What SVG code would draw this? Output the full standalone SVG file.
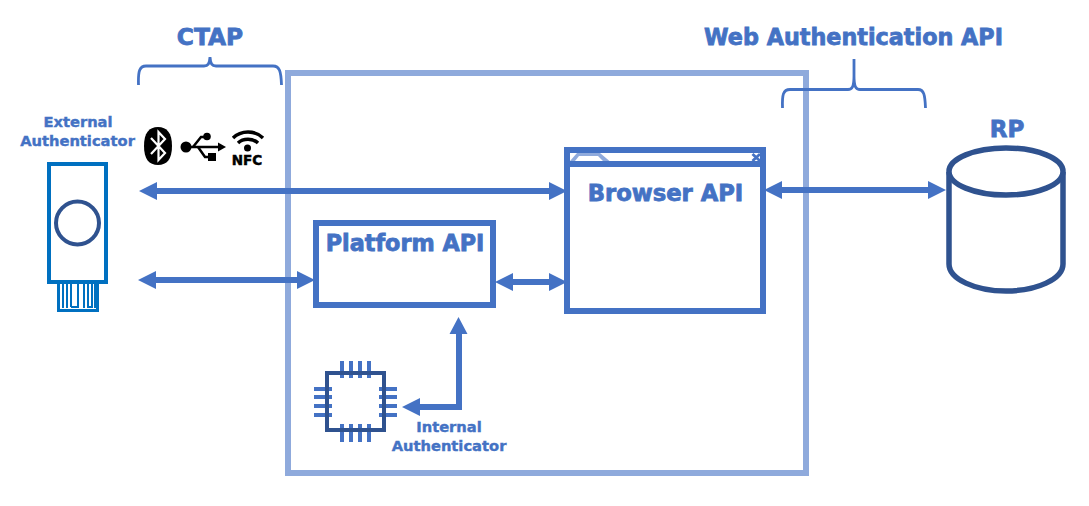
<svg xmlns="http://www.w3.org/2000/svg" width="1089" height="506" viewBox="0 0 1089 506">
<style>
text{font-family:"DejaVu Sans",Verdana,sans-serif;font-weight:700;fill:#4472c4;text-anchor:middle;stroke:#4472c4}
.t{font-size:22.300px;stroke-width:.8px}.s{font-size:14.700px;stroke-width:.4px}
.box{fill:#fff;stroke:#4472c4;stroke-width:6}
.brace{fill:none;stroke:#4472c4;stroke-width:2.800}
.line{fill:none;stroke:#4472c4;stroke-width:6}
.head{fill:#4472c4}
.pin{stroke:#4472c4;stroke-width:4;fill:none}
</style>
<rect width="1089" height="506" fill="#fff"/>
<g id="platform-frame"><rect x="288" y="73" width="518" height="400" fill="#fff" stroke="#8faadc" stroke-width="6"/></g>
<g id="ctap-label"><text class="t" style="font-size:23.300px" x="210" y="45">CTAP</text><path class="brace" d="M138.500 85C138 71 139.500 66 146 66H204C208 66 209.500 64 210 57C210.500 64 212 66 216 66H273C279.500 66 281 71 281.500 85"/></g>
<g id="webauthn-label"><text class="t" x="853.500" y="45">Web Authentication API</text><path class="brace" d="M782.500 108C782 95 783 89.500 790 89.500H848C852 89.500 854 87 854 76V59V76C854 87 856 89.500 860 89.500H918C924 89.500 925 95 925.500 108"/></g>
<g id="external-authenticator">
<text class="s" x="78" y="127">External</text><text class="s" x="77.500" y="146">Authenticator</text>
<rect x="49" y="164" width="57" height="118" fill="#fff" stroke="#0070c0" stroke-width="4"/>
<circle cx="77.500" cy="223" r="21.500" fill="#fff" stroke="#2f528f" stroke-width="4"/>
<path d="M58.500 283V310.500H97.500V283" fill="none" stroke="#0070c0" stroke-width="3"/>
<path d="M63 283V308M67 283V308M71 283V307M71 307H78V283M84 283V308M88 283V307H92V283M95 283V308" fill="none" stroke="#0070c0" stroke-width="2"/>
</g>
<g id="transport-icons">
<path d="M158 127C167 127 172 133 172 146C172 159 167 165 158 165C149 165 144 159 144 146C144 133 149 127 158 127Z" fill="#000"/>
<path d="M151 138L165 153L158.500 160V132L165 139L151 154" fill="none" stroke="#fff" stroke-width="2.200"/>
<circle cx="186" cy="147" r="5.500" fill="#000"/><path d="M186 147H220" stroke="#000" stroke-width="2.500" fill="none"/><path d="M226 147L218 142.500V151.500Z" fill="#000"/>
<path d="M193 147L201 137H207M198 147L205 157H210" fill="none" stroke="#000" stroke-width="2.500"/><circle cx="207" cy="136.500" r="3.800" fill="#000"/><rect x="208" y="153" width="8" height="8" fill="#000"/>
<path d="M233 138C241 130 255 130 263 138M238 143C243 138 253 138 258 143" fill="none" stroke="#000" stroke-width="3.400"/><circle cx="247.500" cy="148" r="3.500" fill="#000"/>
<text x="247" y="165" style="font-size:13.500px;fill:#000;stroke:#000;stroke-width:.5px">NFC</text>
</g>
<g id="browser-api">
<rect class="box" x="567" y="150" width="196" height="161"/>
<path d="M567 164H763" stroke="#4472c4" stroke-width="6" fill="none"/>
<path d="M570 161L577 153H600L609.500 161H603L598 156H579L575 161Z" fill="#8faadc"/>
<path d="M752.500 154L760 161M760 154L752.500 161" stroke="#4472c4" stroke-width="2.800"/>
<text class="t" style="font-size:22.700px" x="665.500" y="201">Browser API</text>
</g>
<g id="platform-api">
<rect class="box" x="316" y="223" width="177" height="82"/>
<text class="t" x="405" y="251">Platform API</text>
</g>
<g id="internal-authenticator">
<path class="pin" d="M342 361V378M351 361V378M360 361V378M369 361V378M342 424V442M351 424V442M360 424V442M369 424V442M314 389H332M314 397H332M314 406H332M314 415H332M379 389H397M379 397H397M379 406H397M379 415H397"/>
<rect x="327" y="373" width="57" height="57" fill="none" stroke="#2f528f" stroke-width="4"/>
<text class="s" x="449" y="432">Internal</text><text class="s" x="449" y="451">Authenticator</text>
</g>
<g id="rp">
<text class="t" style="font-size:23px" x="1007" y="137">RP</text>
<path d="M949 172V264C949 279 975 291 1006 291C1037 291 1063 279 1063 264V172" fill="#fff" stroke="#2f528f" stroke-width="5.500"/>
<ellipse cx="1006" cy="171.500" rx="57" ry="23.500" fill="#fff" stroke="#2f528f" stroke-width="5.500"/>
</g>
<g id="connectors">
<path class="line" d="M150 191H555M150 280H303M506 282H555M770 190H935M459 328V407H416"/>
<path class="head" d="M139 191L157 182V200ZM567 191L549 182V200ZM138 280L156 271V289ZM315 280L297 271V289ZM495 282L513 273V291ZM567 282L549 273V291ZM764 190L782 181V199ZM946 190L928 181V199ZM458.500 317L449.500 334H467.500ZM402 407L420 398V416Z"/>
</g>
</svg>
